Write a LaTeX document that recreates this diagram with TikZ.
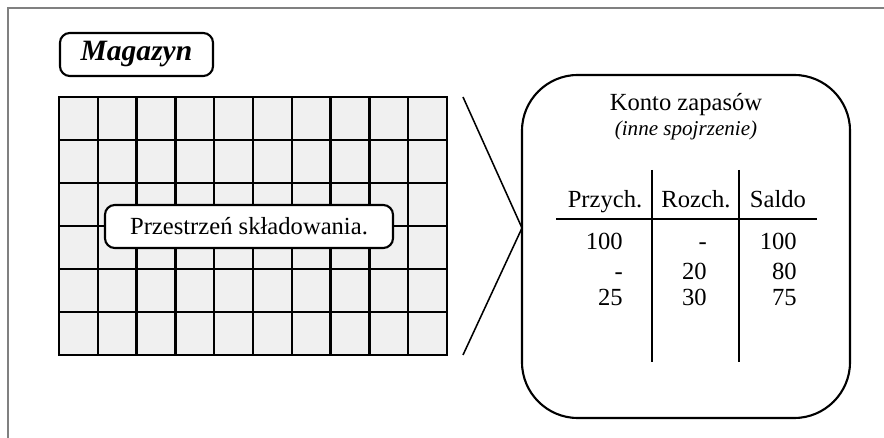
\documentclass[tikz,border=0pt]{standalone}
\usepackage{fontspec}
\setmainfont{Liberation Serif}
\usetikzlibrary{positioning}

\tikzset{
  tag box/.style={draw, line width=1.5pt, rounded corners=7pt, fill=white, inner sep=0pt, minimum height=1.075cm},
  cell line/.style={line width=1.8pt},
  table line/.style={line width=1pt},
  txt/.style={font=\fontsize{17.5}{21}\selectfont, inner sep=0pt},
}

\begin{document}
\begin{tikzpicture}[x=0.025cm,y=-0.025cm]
\useasboundingbox (0,0) rectangle (884,438);

% frame
\draw[gray, line width=0.8pt] (8,438) -- (8,8) -- (884,8);

% store grid
\fill[gray!12] (59,97) rectangle (447,355);
\foreach \i in {1,...,9} \draw[cell line] (59+\i*38.8,97) -- ++(0,258);
\foreach \j in {1,...,5} \draw[cell line] (59,97+\j*43) -- ++(388,0);
\draw[cell line] (59,97) rectangle (447,355);

% labels on the store
\path
(136.5,54.5) node[tag box, minimum width=3.825cm, font=\fontsize{21}{25}\selectfont\bfseries\itshape] (magazyn) {Magazyn}
(249,226.5)  node[tag box, minimum width=7.2cm, font=\fontsize{17.5}{21}\selectfont] (space) {Przestrzeń składowania.};

% account box
\path
(686,246.5) node[draw, line width=1.5pt, rounded corners=1.4cm, minimum width=8.2cm, minimum height=8.575cm] (konto) {};
\coordinate (gtop) at (463,97);
\coordinate (gbot) at (463,355);
\coordinate (tip) at (522,228);
\draw[line width=1.1pt] (gtop) -- (tip) -- (gbot);

\path
(686,111) node[txt, anchor=base] (title) {Konto zapasów}
(686,136) node[txt, anchor=base, font=\fontsize{15}{18}\selectfont\itshape] (sub) {(inne spojrzenie)};

% table
\coordinate (v1t) at (652,170); \coordinate (v1b) at (652,362);
\coordinate (v2t) at (739,170); \coordinate (v2b) at (739,362);
\coordinate (hl) at (556,219);  \coordinate (hr) at (817,219);
\draw[table line] (v1t) -- (v1b);
\draw[table line] (v2t) -- (v2b);
\draw[table line] (hl) -- (hr);

\path
(605,208) node[txt, anchor=base] (przych) {Przych.}
(696,208) node[txt, anchor=base] (rozch) {Rozch.}
(778,208) node[txt, anchor=base] (saldo) {Saldo};

\foreach \a/\b/\c/\y in {100/-/100/250, -/20/80/280, 25/30/75/306}{
  \path
  (623,\y) node[txt, anchor=base east] {\a}
  (707,\y) node[txt, anchor=base east] {\b}
  (797,\y) node[txt, anchor=base east] {\c};
}

\end{tikzpicture}
\end{document}
